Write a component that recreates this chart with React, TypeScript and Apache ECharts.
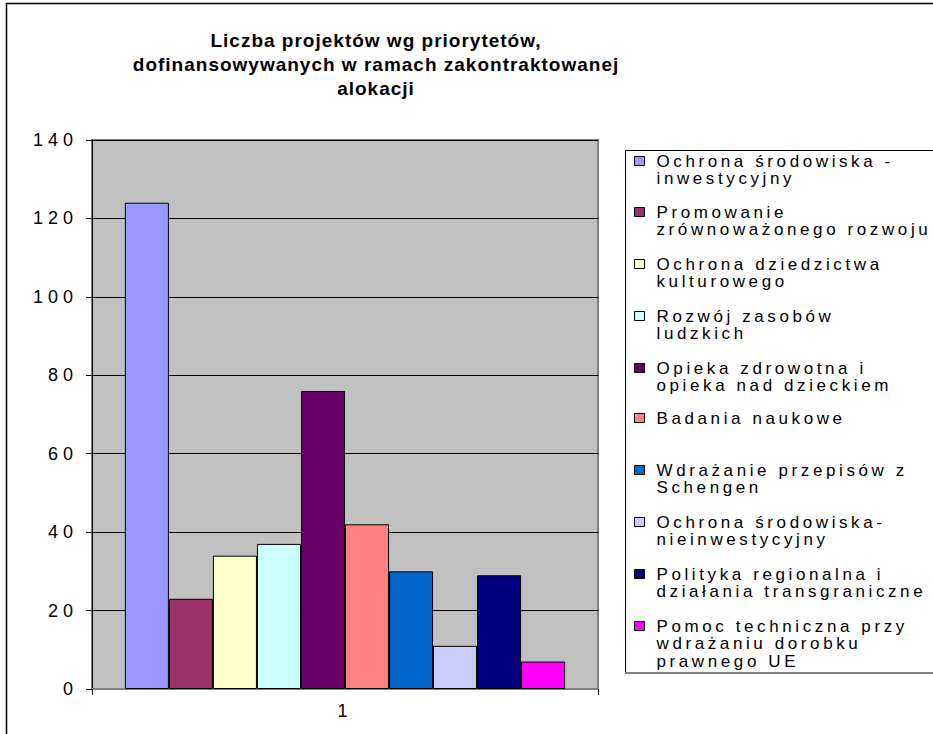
import React, { useEffect, useRef } from 'react';
import * as echarts from 'echarts';

const TITLE_LINES = [
  'Liczba projektów wg priorytetów,',
  'dofinansowywanych w ramach zakontraktowanej',
  'alokacji',
];
const CATEGORIES = ['1'];
const LEGEND_LINES: string[][] = [
  ['Ochrona środowiska -', 'inwestycyjny'],
  ['Promowanie', 'zrównoważonego rozwoju'],
  ['Ochrona dziedzictwa', 'kulturowego'],
  ['Rozwój zasobów', 'ludzkich'],
  ['Opieka zdrowotna i', 'opieka nad dzieckiem'],
  ['Badania naukowe'],
  ['Wdrażanie przepisów z', 'Schengen'],
  ['Ochrona środowiska-', 'nieinwestycyjny'],
  ['Polityka regionalna i', 'działania transgraniczne'],
  ['Pomoc techniczna przy', 'wdrażaniu dorobku', 'prawnego UE'],
];
const SERIES_NAMES = LEGEND_LINES.map((l) => l.join(' '));
const VALUES = [124, 23, 34, 37, 76, 42, 30, 11, 29, 7];
const COLORS = ['#9999FF', '#993366', '#FFFFCC', '#CCFFFF', '#660066', '#FF8080', '#0066CC', '#CCCCFF', '#000080', '#FF00FF'];
const Y_MIN = 0;
const Y_MAX = 140;
const Y_STEP = 20;

// layout
const FONT = '"Liberation Sans", Arial, sans-serif';
const LEGEND_CENTER_Y = [161, 212, 264, 316, 368, 418, 470, 522, 574, 626];
const LINE_H = 17.5;

export default function App() {
  const ref = useRef<HTMLDivElement>(null);
  useEffect(() => {
    if (!ref.current) return;
    const chart = echarts.init(ref.current, undefined, { renderer: 'svg' });
    const labelMap: Record<string, string> = {};
    SERIES_NAMES.forEach((n, i) => {
      const lines = LEGEND_LINES[i];
      // leading empty lines keep the first text line level with the marker
      labelMap[n] = '\n'.repeat(lines.length - 1) + lines.join('\n');
    });

    const legends = SERIES_NAMES.map((name, i) => {
      const n = LEGEND_LINES[i].length;
      return {
        show: true,
        orient: 'vertical',
        left: 634,
        top: LEGEND_CENTER_Y[i] - (LINE_H * (2 * n - 1)) / 2,
        padding: 0,
        itemWidth: 10,
        itemHeight: 9,
        icon: 'rect',
        itemStyle: { borderColor: '#000', borderWidth: 1 },
        data: [name],
        formatter: (nm: string) => labelMap[nm] ?? nm,
        textStyle: {
          fontFamily: FONT,
          fontSize: 17,
          lineHeight: LINE_H,
          color: '#000',
          padding: [0, 0, 0, 7],
        },
      };
    });

    chart.setOption({
      animation: false,
      backgroundColor: '#fff',
      title: {
        text: TITLE_LINES.join('\n'),
        left: 376,
        top: 28,
        textAlign: 'center',
        padding: 0,
        textStyle: { fontFamily: FONT, fontSize: 19, fontWeight: 'bold', lineHeight: 24, color: '#000' },
      },
      legend: legends,
      grid: {
        left: 92,
        top: 140,
        width: 506,
        height: 549,
        show: true,
        backgroundColor: '#C0C0C0',
        borderColor: '#808080',
        borderWidth: 2,
      },
      xAxis: {
        type: 'category',
        data: CATEGORIES,
        axisLine: { show: true, lineStyle: { color: '#808080', width: 2 } },
        axisTick: { show: true, alignWithLabel: false, length: 6, lineStyle: { color: '#000' } },
        axisLabel: { fontFamily: FONT, fontSize: 18, color: '#000', margin: 13 },
        splitLine: { show: false },
      },
      yAxis: {
        type: 'value',
        min: Y_MIN,
        max: Y_MAX,
        interval: Y_STEP,
        axisLine: { show: true, lineStyle: { color: '#000', width: 1 } },
        axisTick: { show: true, length: 6, lineStyle: { color: '#000' } },
        axisLabel: { fontFamily: FONT, fontSize: 18, color: '#000', margin: 14 },
        splitLine: { show: true, lineStyle: { color: '#000', width: 1 } },
      },
      series: SERIES_NAMES.map((name, i) => ({
        type: 'bar',
        name,
        data: [VALUES[i]],
        barGap: '0%',
        barCategoryGap: '13%',
        itemStyle: { color: COLORS[i], borderColor: '#000', borderWidth: 1 },
        emphasis: { disabled: true },
      })),
      graphic: [
        {
          type: 'rect',
          shape: { x: 6.5, y: 3.5, width: 1000, height: 1000 },
          style: { fill: 'none', stroke: '#000', lineWidth: 1.5 },
          silent: true,
        },
        {
          type: 'rect',
          shape: { x: 625.5, y: 150.5, width: 400, height: 522 },
          style: { fill: 'none', stroke: '#000', lineWidth: 1 },
          silent: true,
        },
        {
          type: 'line',
          shape: { x1: 625, y1: 673, x2: 933, y2: 673 },
          style: { stroke: '#808080', lineWidth: 2 },
          silent: true,
        },
      ],
    });
    return () => chart.dispose();
  }, []);

  return (
    <>
      <style>{`
        #chart text { letter-spacing: 3.6px; }
        #chart text[style*="18px"] { letter-spacing: 5px; }
        #chart text[style*="bold"] { letter-spacing: 1px; }
      `}</style>
      <div
        id="chart"
        ref={ref}
        style={{ position: 'fixed', left: 0, top: 0, width: 933, height: 734 }}
      />
    </>
  );
}
